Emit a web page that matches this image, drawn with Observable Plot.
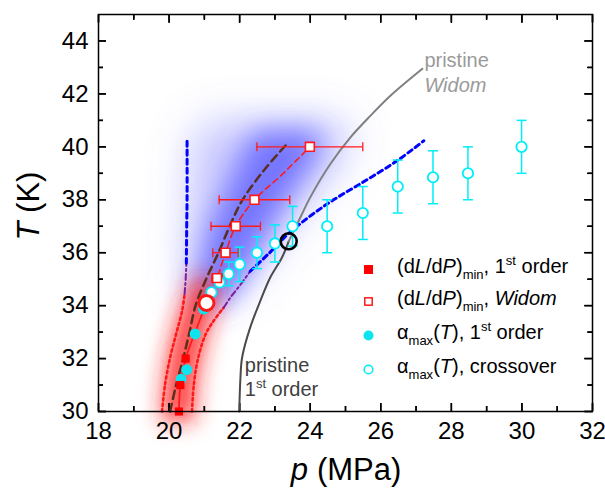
<!DOCTYPE html>
<html><head><meta charset="utf-8">
<script src="https://cdn.jsdelivr.net/npm/d3@7"></script>
<script src="https://cdn.jsdelivr.net/npm/@observablehq/plot@0.6"></script>
<style>
body{margin:0;background:#fff;}
#wrap{position:relative;width:605px;height:493px;font-family:"Liberation Sans",Arial,sans-serif;}
.row{position:absolute;left:397px;font-size:20px;line-height:20px;white-space:nowrap;color:#000;}
.row sub,.row sup{font-size:13px;line-height:0;}
.row sub{vertical-align:-6px;}
.row sup{vertical-align:8px;}
.mk{position:absolute;}
</style></head><body><div id="wrap"></div>
<script>
// ---- tick values
const xMajor = [18,20,22,24,26,28,30,32];
const xMinor = [19,21,23,25,27,29,31];
const yMajor = [30,32,34,36,38,40,42,44];
const yMinor = [31,33,35,37,39,41,43];

// ---- (dL/dP)min, 1st order (filled red squares)
const sqFillP = [20.28, 20.32, 20.47];
const sqFillT = [30.0, 31.0, 32.0];
// red solid line up to critical point
const redSolidP = [20.28, 20.32, 20.47, 20.74, 21.06];
const redSolidT = [30.0, 31.0, 32.0, 33.0, 34.1];

// ---- (dL/dP)min, Widom (open red squares, horizontal errors)
const sqOpenP = [21.36, 21.60, 21.89, 22.42, 23.99];
const sqOpenT = [35.04, 36.0, 37.0, 38.0, 40.0];
const sqOpenErr = [0.15, 0.36, 0.70, 1.0, 1.5];
// red dashed line
const redDashP = [21.06, 21.36, 21.60, 21.89, 22.42, 23.16, 23.99];
const redDashT = [34.1, 35.04, 36.0, 37.0, 38.0, 38.9, 40.0];

// ---- alpha_max(T), 1st order (filled cyan circles)
const cyFillP = [20.34, 20.50, 20.74, 20.98];
const cyFillT = [31.22, 31.58, 32.93, 33.87];

// ---- alpha_max(T), crossover (open cyan circles, vertical errors)
const cyOpenP = [21.20, 21.43, 21.69, 22.00, 22.49, 23.00, 23.50, 24.48, 25.49, 26.48, 27.48, 28.47, 29.99];
const cyOpenT = [34.50, 34.88, 35.20, 35.56, 36.00, 36.35, 37.00, 37.00, 37.50, 38.50, 38.85, 39.00, 40.00];
const cyOpenErr = [0, 0, 0.45, 0.65, 0.60, 0.70, 0.75, 1.0, 1.0, 1.0, 1.0, 1.0, 1.0];

// ---- brown dashed line
const brownP = [20.03, 20.20, 20.40, 20.58, 20.75, 21.05, 21.40, 21.75, 22.07, 22.68, 23.30];
const brownT = [30.0, 31.0, 32.0, 33.0, 34.0, 35.0, 36.0, 37.1, 37.97, 39.1, 40.05];

// ---- left envelope
const leftRedP = [19.80, 19.89, 20.03, 20.20, 20.37, 20.44];
const leftRedT = [30.0, 31.05, 32.04, 32.93, 33.8, 34.44];
const leftPurP = [20.44, 20.47, 20.49];
const leftPurT = [34.44, 35.0, 35.6];
const leftBlueP = [20.49, 20.50, 20.51, 20.51];
const leftBlueT = [35.6, 37.0, 38.0, 40.35];

// ---- right envelope
const rightRedP = [20.65, 20.70, 20.82, 21.03, 21.25, 21.55];
const rightRedT = [30.0, 31.0, 32.0, 32.9, 33.4, 33.93];
const rightPurP = [21.55, 21.74, 22.00, 22.30];
const rightPurT = [33.93, 34.31, 34.75, 35.3];
const rightBlueP = [22.30, 22.85, 23.45, 24.48, 25.49, 26.47, 27.22];
const rightBlueT = [35.3, 36.0, 36.8, 37.84, 38.66, 39.48, 40.23];

// ---- pristine lines
const prist1P = [21.99, 22.02, 22.07, 22.30, 22.59, 22.87, 23.20, 23.39];
const prist1T = [30.0, 31.2, 32.04, 33.18, 34.19, 35.07, 35.82, 36.43];
const pristWP = [23.39, 23.72, 24.00, 24.57, 25.14, 25.71, 26.28, 27.18];
const pristWT = [36.43, 37.33, 38.09, 39.35, 40.36, 41.18, 41.94, 42.95];

// ---- special points
const critP = [21.06], critT = [34.1];        // red big circle
const pristCP = [23.39], pristCT = [36.43];   // black big circle

// ---- glow bands
const glowBT = [34.0, 35.5, 37.0, 38.5, 40.0, 40.6];
const glowBLo = [20.75, 20.9, 21.2, 21.7, 22.2, 22.5];
const glowBHi = [21.6, 22.3, 22.9, 23.6, 24.3, 24.2];
const glowWT = [34.5, 36.0, 38.0, 40.3, 41.0];
const glowWLo = [20.5, 20.5, 20.55, 20.7, 21.2];
const glowWHi = [21.9, 22.9, 24.0, 25.2, 24.8];
const glowRT = [29.6, 31.0, 32.0, 33.0, 34.0, 35.0];
const glowRLo = [19.8, 19.88, 19.98, 20.15, 20.4, 20.7];
const glowRHi = [20.72, 20.78, 20.92, 21.1, 21.3, 21.4];

// ---- annotations
const annoP = [22.16, 27.25];
const annoT = [31.47, 43.0];

// ---- legend labels
const legendLabels = [
  '(d<i>L</i>/d<i>P</i>)<sub>min</sub>, 1<sup>st</sup> order',
  '(d<i>L</i>/d<i>P</i>)<sub>min</sub>, <i>Widom</i>',
  'α<sub>max</sub>(<i>T</i>), 1<sup>st</sup> order',
  'α<sub>max</sub>(<i>T</i>), crossover'
];

const RED = "#ff1a1a", CY = "#00eef8", CYF = "#0ee4ef", BLUE = "#0000ff", PUR = "#7a1fa0", BROWN = "#5c2e1e";
const W = 605, H = 493, ML = 98, MR = 13, MT = 14, MB = 82;
const xDom = [18, 32], yDom = [30, 45];
const kX = (xDom[1] - xDom[0]) / (W - ML - MR);   // data units per pixel
const kY = (yDom[1] - yDom[0]) / (H - MT - MB);

const idx = a => a.map((_, i) => i);
const lineOf = (P, T, o) => Plot.line(idx(P), {x: i => P[i], y: i => T[i], curve: "catmull-rom", fill: "none", ...o});
const seg = (dx, dy) => ({draw(ctx, size){ const r = Math.sqrt(size/Math.PI); ctx.moveTo(-dx*r, -dy*r); ctx.lineTo(dx*r, dy*r); }});
const vCap = seg(0, 1), hCap = seg(1, 0);
const tk = {stroke: "#000", strokeWidth: 1.5};
const noText = () => "";
// inward ticks: axis ticks shifted into the frame
const inTicks = (vals, len) => [
  Plot.axisX({ticks: vals, anchor: "bottom", tickSize: len, dy: -len, tickFormat: noText, label: null, ...tk}),
  Plot.axisX({ticks: vals, anchor: "top", tickSize: len, dy: len, tickFormat: noText, label: null, ...tk})
];
const inTicksY = (vals, len) => [
  Plot.axisY({ticks: vals, anchor: "left", tickSize: len, dx: len, tickFormat: noText, label: null, ...tk}),
  Plot.axisY({ticks: vals, anchor: "right", tickSize: len, dx: -len, tickFormat: noText, label: null, ...tk})
];
// same ticks again as rule segments (object rows, field accessors)
const ruleTicksX = (vals, len) => {
  const lo = vals.map(v => ({v, a: yDom[0], b: yDom[0] + len * kY}));
  const hi = vals.map(v => ({v, a: yDom[1] - len * kY, b: yDom[1]}));
  return [Plot.ruleX(lo, {x: "v", y1: "a", y2: "b", ...tk}), Plot.ruleX(hi, {x: "v", y1: "a", y2: "b", ...tk})];
};
const ruleTicksY = (vals, len) => {
  const lo = vals.map(v => ({v, a: xDom[0], b: xDom[0] + len * kX}));
  const hi = vals.map(v => ({v, a: xDom[1] - len * kX, b: xDom[1]}));
  return [Plot.ruleY(lo, {y: "v", x1: "a", x2: "b", ...tk}), Plot.ruleY(hi, {y: "v", x1: "a", x2: "b", ...tk})];
};

const sqCaps = sqOpenP.flatMap((p, i) => [{x: p - sqOpenErr[i], y: sqOpenT[i]}, {x: p + sqOpenErr[i], y: sqOpenT[i]}]);
const cyCaps = cyOpenP.flatMap((p, i) => cyOpenErr[i] > 0.4 ? [{x: p, y: cyOpenT[i] - cyOpenErr[i]}, {x: p, y: cyOpenT[i] + cyOpenErr[i]}] : []);
const cyBars = idx(cyOpenP).filter(i => cyOpenErr[i] > 0);

const plot = Plot.plot({
  width: W, height: H,
  marginLeft: ML, marginRight: MR, marginTop: MT, marginBottom: MB,
  x: {domain: xDom},
  y: {domain: yDom},
  style: {fontFamily: "'Liberation Sans', Arial, sans-serif", color: "#000", background: "#fff"},
  marks: [
    Plot.areaX(idx(glowWT), {y: i => glowWT[i], x1: i => glowWLo[i], x2: i => glowWHi[i], fill: "#7070ff", fillOpacity: 0.38, curve: "catmull-rom"}),
    Plot.areaX(idx(glowBT), {y: i => glowBT[i], x1: i => glowBLo[i], x2: i => glowBHi[i], fill: "#5a5aff", fillOpacity: 0.75, curve: "catmull-rom"}),
    Plot.areaX(idx(glowRT), {y: i => glowRT[i], x1: i => glowRLo[i], x2: i => glowRHi[i], fill: "#ff2020", fillOpacity: 0.85, curve: "catmull-rom"}),

    Plot.axisX({ticks: xMajor, tickSize: 0, tickPadding: 10, fontSize: 24, label: null}),
    Plot.axisY({ticks: yMajor, tickSize: 0, tickPadding: 10, fontSize: 24, label: null}),
    ...inTicks(xMajor, 8), ...inTicks(xMinor, 5),
    ...inTicksY(yMajor, 8), ...inTicksY(yMinor, 5),
    ...ruleTicksX(xMajor, 8), ...ruleTicksX(xMinor, 5),
    ...ruleTicksY(yMajor, 8), ...ruleTicksY(yMinor, 5),

    lineOf(prist1P, prist1T, {stroke: "#4a4a4a", strokeWidth: 2}),
    lineOf(pristWP, pristWT, {stroke: "#808080", strokeWidth: 2}),

    lineOf(leftRedP, leftRedT, {stroke: RED, strokeWidth: 2.6, strokeDasharray: "2.5,3"}),
    lineOf(leftPurP, leftPurT, {stroke: PUR, strokeWidth: 2, strokeDasharray: "6,3,2,3"}),
    lineOf(leftBlueP, leftBlueT, {stroke: BLUE, strokeWidth: 3, strokeDasharray: "5,4"}),
    lineOf(rightRedP, rightRedT, {stroke: RED, strokeWidth: 2.6, strokeDasharray: "2.5,3"}),
    lineOf(rightPurP, rightPurT, {stroke: PUR, strokeWidth: 2, strokeDasharray: "6,3,2,3"}),
    lineOf(rightBlueP, rightBlueT, {stroke: BLUE, strokeWidth: 3, strokeDasharray: "5,4"}),

    lineOf(brownP, brownT, {stroke: BROWN, strokeWidth: 2.5, strokeDasharray: "8,5"}),
    lineOf(redDashP, redDashT, {stroke: RED, strokeWidth: 1.6, strokeDasharray: "6,4"}),
    lineOf(redSolidP, redSolidT, {stroke: RED, strokeWidth: 1.8}),

    Plot.ruleY(idx(sqOpenP), {y: i => sqOpenT[i], x1: i => sqOpenP[i] - sqOpenErr[i], x2: i => sqOpenP[i] + sqOpenErr[i], stroke: RED, strokeWidth: 1.3}),
    Plot.dot(sqCaps, {x: "x", y: "y", symbol: vCap, r: 4.5, fill: "none", stroke: RED, strokeWidth: 1.3}),
    Plot.ruleX(cyBars, {x: i => cyOpenP[i], y1: i => cyOpenT[i] - cyOpenErr[i], y2: i => cyOpenT[i] + cyOpenErr[i], stroke: CY, strokeWidth: 1.5}),
    Plot.dot(cyCaps, {x: "x", y: "y", symbol: hCap, r: 5, fill: "none", stroke: CY, strokeWidth: 1.5}),

    Plot.dot(idx(cyFillP), {x: i => cyFillP[i], y: i => cyFillT[i], r: 5.5, fill: CYF, stroke: "none"}),
    Plot.dot(idx(sqFillP), {x: i => sqFillP[i], y: i => sqFillT[i], symbol: "square", r: 4.6, fill: "#ff0000", stroke: "none"}),
    Plot.dot(idx(cyOpenP), {x: i => cyOpenP[i], y: i => cyOpenT[i], r: 5.2, fill: "#fff", stroke: CY, strokeWidth: 1.8}),
    Plot.dot(idx(sqOpenP), {x: i => sqOpenP[i], y: i => sqOpenT[i], symbol: "square", r: 5, fill: "#fff", stroke: RED, strokeWidth: 1.6}),

    Plot.dot(idx(critP), {x: i => critP[i], y: i => critT[i], r: 7.5, fill: "#fff", stroke: RED, strokeWidth: 3}),
    Plot.dot(idx(pristCP), {x: i => pristCP[i], y: i => pristCT[i], r: 8, fill: "none", stroke: "#000", strokeWidth: 2.6}),

    Plot.frame({stroke: "#000", strokeWidth: 1.5})
  ]
});

const wrap = document.getElementById("wrap");
wrap.appendChild(plot);
const svg = d3.select(plot);
const defs = svg.insert("defs", ":first-child");
function blur(id, s){
  defs.append("filter").attr("id", id).attr("filterUnits", "userSpaceOnUse")
    .attr("x", -100).attr("y", -100).attr("width", 805).attr("height", 693)
    .append("feGaussianBlur").attr("stdDeviation", s);
}
blur("gbw", 20); blur("gbb", 14); blur("gbr", 11);
const areas = svg.selectAll('g[aria-label="area"]').nodes();
const ids = ["gbw", "gbb", "gbr"];
areas.slice(0, 3).forEach((n, i) => n.setAttribute("filter", `url(#${ids[i]})`));

const X = plot.scale("x"), Y = plot.scale("y");
const ff = "'Liberation Sans', Arial, sans-serif";

// axis titles
const xt = svg.append("text").attr("x", 346).attr("y", 480).attr("text-anchor", "middle")
  .attr("font-family", ff).attr("font-size", 31).attr("fill", "#000");
xt.append("tspan").attr("font-style", "italic").text("p");
xt.append("tspan").attr("dx", 9).text("(MPa)");
const yt = svg.append("text").attr("transform", "translate(39,206) rotate(-90)").attr("text-anchor", "middle")
  .attr("font-family", ff).attr("font-size", 31).attr("fill", "#000");
yt.append("tspan").attr("font-style", "italic").text("T");
yt.append("tspan").text(" (K)");

// annotations
const a1 = svg.append("g").attr("font-family", ff).attr("font-size", 20).attr("fill", "#404040").attr("text-anchor", "start");
a1.append("text").attr("x", X.apply(annoP[0])).attr("y", Y.apply(annoT[0])).text("pristine");
const a1b = a1.append("text").attr("x", X.apply(annoP[0])).attr("y", Y.apply(annoT[0]) + 23.5);
a1b.append("tspan").text("1");
a1b.append("tspan").attr("font-size", 13).attr("dy", -8).text("st");
a1b.append("tspan").attr("dy", 8).text(" order");
const a2 = svg.append("g").attr("font-family", ff).attr("font-size", 20).attr("fill", "#9a9a9a").attr("text-anchor", "start");
a2.append("text").attr("x", X.apply(annoP[1])).attr("y", Y.apply(annoT[1])).text("pristine");
a2.append("text").attr("x", X.apply(annoP[1])).attr("y", Y.apply(annoT[1]) + 25).attr("font-style", "italic").text("Widom");

// legend
const rowTops = [256.4, 287.6, 321.6, 355.8];
const mkY = [266.7, 298.3, 332.7, 366.7];
const mkSvg = [
  `<rect x="1" y="1" width="9" height="9" fill="#ff0000"/>`,
  `<rect x="1.8" y="1.8" width="7.4" height="7.4" fill="#fff" stroke="${RED}" stroke-width="1.5"/>`,
  `<circle cx="5.5" cy="5.5" r="5" fill="${CYF}"/>`,
  `<circle cx="5.5" cy="5.5" r="4.3" fill="#fff" stroke="${CY}" stroke-width="1.6"/>`
];
legendLabels.forEach((lab, i) => {
  const m = document.createElement("div");
  m.className = "mk";
  m.style.left = (368.3 - 5.5) + "px";
  m.style.top = (mkY[i] - 5.5) + "px";
  m.innerHTML = `<svg width="11" height="11">${mkSvg[i]}</svg>`;
  wrap.appendChild(m);
  const r = document.createElement("div");
  r.className = "row";
  r.style.top = rowTops[i] + "px";
  r.innerHTML = lab;
  wrap.appendChild(r);
});
</script>
</body></html>
